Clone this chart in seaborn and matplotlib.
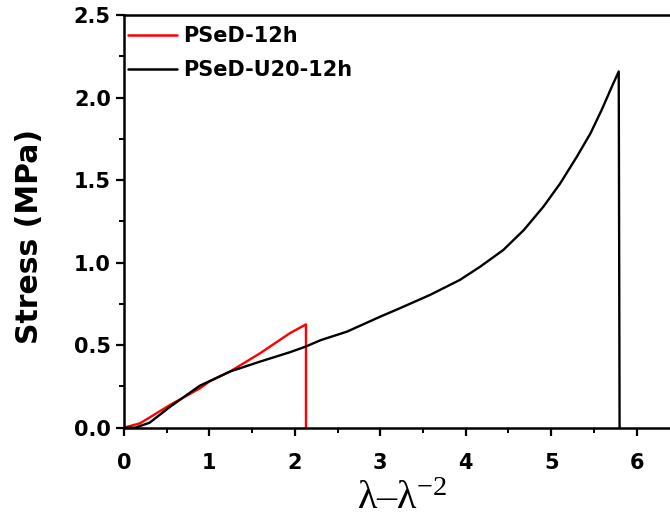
import matplotlib
matplotlib.use("Agg")
import matplotlib.pyplot as plt
from matplotlib.ticker import MultipleLocator
import seaborn as sns
import pandas as pd

# Data
series_names = ["PSeD-12h", "PSeD-U20-12h"]
x_red = [0.0, 0.19, 0.54, 0.89, 1.00, 1.24, 1.59, 1.94, 2.13, 2.13]
y_red = [0.0, 0.027, 0.138, 0.239, 0.28, 0.34, 0.45, 0.572, 0.626, 0.0]
x_black = [0.0, 0.13, 0.30, 0.54, 0.89, 1.24, 1.59, 1.94, 2.12, 2.30, 2.61,
           3.00, 3.23, 3.58, 3.93, 4.17, 4.44, 4.68, 4.91, 5.105, 5.30, 5.46,
           5.59, 5.71, 5.79, 5.80]
y_black = [0.0, 0.0, 0.03, 0.127, 0.255, 0.34, 0.40, 0.457, 0.49, 0.53, 0.582,
           0.673, 0.724, 0.804, 0.895, 0.976, 1.077, 1.198, 1.34, 1.48, 1.642, 1.784,
           1.925, 2.067, 2.158, 0.0]
x_ticks = [0, 1, 2, 3, 4, 5, 6]
y_ticks = [0.0, 0.5, 1.0, 1.5, 2.0, 2.5]
colors = ["#ff0000", "#000000"]

df = pd.concat([
    pd.DataFrame({"x": x_red, "y": y_red, "s": series_names[0]}),
    pd.DataFrame({"x": x_black, "y": y_black, "s": series_names[1]}),
], ignore_index=True)

sns.set_style("ticks", rc={"axes.edgecolor": "black", "text.color": "black",
                           "axes.labelcolor": "black", "xtick.color": "black",
                           "ytick.color": "black"})
plt.rcParams["font.family"] = ["DejaVu Sans"]
plt.rcParams["mathtext.fontset"] = "custom"
plt.rcParams["mathtext.rm"] = "Liberation Serif"
plt.rcParams["mathtext.it"] = "Liberation Serif:italic"

fig = plt.figure(figsize=(6.7, 5.2), dpi=100)
ax = fig.add_axes([0.185, 0.1775, 0.815, 0.7935])

sns.lineplot(data=df, x="x", y="y", hue="s", palette=colors, sort=False,
             estimator=None, units="s", linewidth=1.7, ax=ax)

ax.set_xlim(0, 6.39)
ax.set_ylim(0, 2.5)
ax.set_xticks(x_ticks)
ax.set_yticks(y_ticks)
ax.set_xticklabels([str(t) for t in x_ticks])
ax.set_yticklabels([f"{t:.1f}" for t in y_ticks])
ax.xaxis.set_minor_locator(MultipleLocator(0.5))
ax.yaxis.set_minor_locator(MultipleLocator(0.25))
ax.tick_params(which="major", direction="out", length=6, width=1.6, labelsize=15,
               colors="black")
ax.tick_params(axis="x", which="major", pad=12)
ax.tick_params(axis="y", which="major", pad=3.5)
ax.tick_params(which="minor", direction="out", length=3.5, width=1.4, colors="black")
for lab in ax.get_xticklabels() + ax.get_yticklabels():
    lab.set_fontweight("bold")
for sp in ["left", "bottom", "top"]:
    ax.spines[sp].set_linewidth(1.8)
    ax.spines[sp].set_color("black")
ax.spines["right"].set_visible(False)

ax.set_ylabel("Stress (MPa)", fontsize=21.5, fontweight="bold", color="black")
ax.yaxis.set_label_coords(-0.146, 0.463)
ax.set_xlabel(r"$\mathregular{\lambda}$" + "\u2013" + r"$\mathregular{\lambda^{-2}}$",
              fontsize=29, family="Liberation Serif", color="black")
ax.xaxis.set_label_coords(0.509, -0.128)

handles, labels = ax.get_legend_handles_labels()
leg = ax.legend(handles, labels, loc="upper left", bbox_to_anchor=(0.0, 0.984),
                frameon=False, prop={"family": "DejaVu Sans", "weight": "bold", "size": 15},
                handlelength=2.35, handletextpad=0.3, labelspacing=0.69,
                borderaxespad=0.0, borderpad=0.2)
for line in leg.get_lines():
    line.set_linewidth(1.8)
for t in leg.get_texts():
    t.set_color("black")

fig.savefig("out.png", dpi=100)
